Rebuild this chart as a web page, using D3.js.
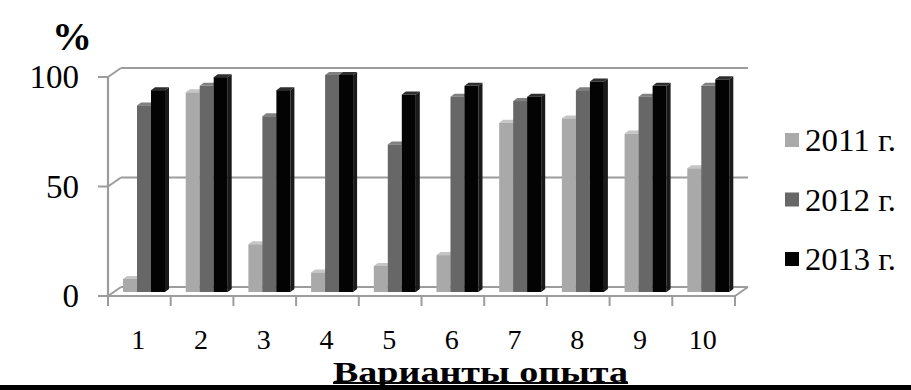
<!DOCTYPE html>
<html><head><meta charset="utf-8">
<script src="https://cdn.jsdelivr.net/npm/d3@7/dist/d3.min.js"></script>
<style>html,body{margin:0;padding:0;background:#fff;}svg{display:block;}
svg text{font-family:"Liberation Serif","Times New Roman",Times,serif;}</style>
</head><body>
<svg id="chart" width="911" height="390"></svg>
<script>
const categories = ["1","2","3","4","5","6","7","8","9","10"];
const seriesNames = ["2011 г.","2012 г.","2013 г."];
const v2011 = [6, 92, 22, 9, 12, 17, 78, 80, 73, 57];
const v2012 = [86, 95, 81, 100, 68, 90, 88, 93, 90, 95];
const v2013 = [93, 99, 93, 100, 91, 95, 90, 97, 95, 98];
const yTicks = [0, 50, 100];
const yLabel = "%";
const xTitle = "Варианты опыта";

const seriesValues = [v2011, v2012, v2013];
const fronts = ["#a9a9a9", "#676767", "#030303"];
const tops   = ["#c6c6c6", "#808080", "#2e2e2e"];
const sides  = ["#8e8e8e", "#4e4e4e", "#1a1a1a"];

const svg = d3.select("#chart");
const DX = 13, DY = -9;
const bdx = 4, bdy = -3;
const gridColor = "#9c9c9c";

const x = d3.scaleBand().domain(categories).range([108, 735]).padding(0);
const x1 = d3.scaleBand().domain(seriesNames).range([15, 57]).padding(0);
const y = d3.scaleLinear().domain([0, 100]).range([296, 77]);
const yBar = d3.scaleLinear().domain([0, 100]).range([292, 75]);

const [xl, xr] = x.range();
const g = svg.append("g");

yTicks.forEach(t => {
  g.append("line").attr("x1", xl + DX).attr("x2", xr + DX)
    .attr("y1", y(t) + DY).attr("y2", y(t) + DY)
    .attr("stroke", gridColor).attr("stroke-width", 2.2);
  g.append("line").attr("x1", xl).attr("x2", xl + DX)
    .attr("y1", y(t)).attr("y2", y(t) + DY)
    .attr("stroke", gridColor).attr("stroke-width", 2);
});
g.append("line").attr("x1", xr).attr("x2", xr + DX)
  .attr("y1", y(0)).attr("y2", y(0) + DY)
  .attr("stroke", gridColor).attr("stroke-width", 2);

categories.forEach((c, i) => {
  seriesNames.forEach((s, j) => {
    const v = seriesValues[j][i];
    const bx = x(c) + x1(s), w = x1.bandwidth();
    const yt = yBar(v), yb = yBar(0);
    g.append("path").attr("d", `M${bx + w},${yt} L${bx + w + bdx},${yt + bdy} L${bx + w + bdx},${yb + bdy} L${bx + w},${yb} Z`)
      .attr("fill", sides[j]);
    g.append("path").attr("d", `M${bx},${yt} L${bx + bdx},${yt + bdy} L${bx + w + bdx},${yt + bdy} L${bx + w},${yt} Z`)
      .attr("fill", tops[j]);
    g.append("rect").attr("x", bx).attr("y", yt).attr("width", w).attr("height", yb - yt)
      .attr("fill", fronts[j]);
  });
});

g.append("line").attr("x1", xl).attr("x2", xr).attr("y1", y(0)).attr("y2", y(0))
  .attr("stroke", gridColor).attr("stroke-width", 2.2);
const bounds = categories.map(c => x(c)).concat([xr]);
bounds.forEach(b => {
  g.append("line").attr("x1", b).attr("x2", b).attr("y1", y(0)).attr("y2", y(0) + 10)
    .attr("stroke", gridColor).attr("stroke-width", 2);
});
g.append("line").attr("x1", xl).attr("x2", xl).attr("y1", y(100)).attr("y2", y(0) + 1)
  .attr("stroke", gridColor).attr("stroke-width", 2.2);
yTicks.forEach(t => {
  g.append("line").attr("x1", xl - 10).attr("x2", xl).attr("y1", y(t)).attr("y2", y(t))
    .attr("stroke", gridColor).attr("stroke-width", 2);
  g.append("text").attr("x", 79).attr("y", y(t) + 11)
    .attr("text-anchor", "end").attr("font-size", 33).attr("fill", "#000").text(t);
});

categories.forEach(c => {
  g.append("text").attr("x", x(c) + x.bandwidth() / 2 - 1).attr("y", 349)
    .attr("text-anchor", "middle").attr("font-size", 28).attr("fill", "#000").text(c);
});

svg.append("text").attr("x", 72).attr("y", 50).attr("text-anchor", "middle")
  .attr("font-weight", "bold").attr("font-size", 40).attr("fill", "#000").text(yLabel);

svg.append("text").attr("x", 333).attr("y", 382)
  .attr("font-weight", "bold").attr("font-size", 29).attr("fill", "#000")
  .attr("textLength", 295).attr("lengthAdjust", "spacingAndGlyphs").text(xTitle);
svg.append("rect").attr("x", 333).attr("y", 382).attr("width", 295).attr("height", 2).attr("fill", "#000");
svg.append("rect").attr("x", 0).attr("y", 385).attr("width", 911).attr("height", 5).attr("fill", "#000");

const legend = svg.append("g");
seriesNames.forEach((s, j) => {
  const ly = 140 + j * 59.5;
  legend.append("rect").attr("x", 785).attr("y", ly - 7).attr("width", 14).attr("height", 14)
    .attr("fill", fronts[j]);
  legend.append("text").attr("x", 805).attr("y", ly + 11)
    .attr("font-size", 31).attr("fill", "#000")
    .attr("textLength", 91).attr("lengthAdjust", "spacingAndGlyphs").text(s);
});
</script>
</body></html>
